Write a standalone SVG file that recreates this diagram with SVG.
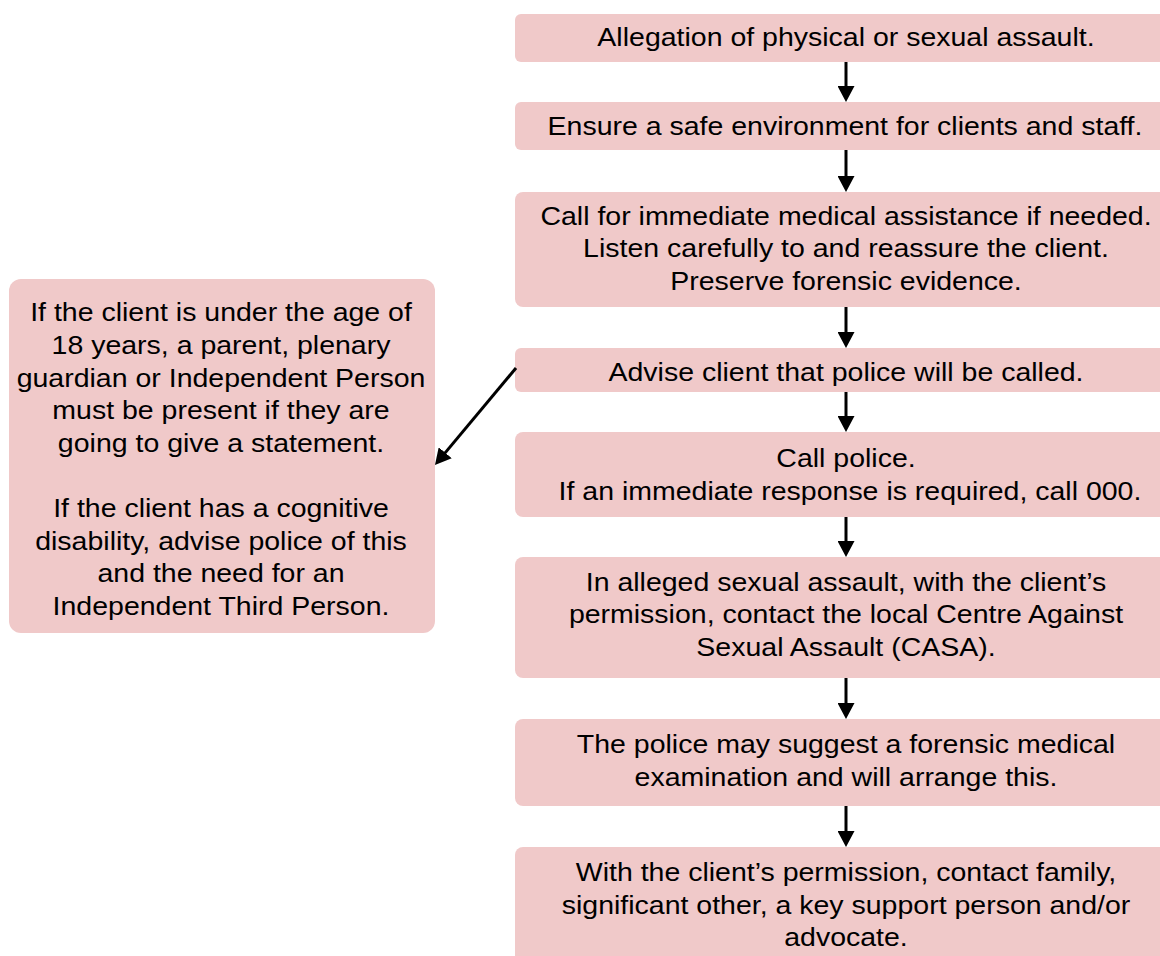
<svg xmlns="http://www.w3.org/2000/svg" width="1160" height="956" viewBox="0 0 1160 956">
<defs>
<style>
.box{fill:#f0c9c9;}
.t{font-family:"Liberation Sans",Arial,sans-serif;font-size:25px;fill:#000;text-anchor:middle;}
.c{stroke:#000;stroke-width:3;fill:none;}
</style>
<marker id="ah" viewBox="0 0 16 17" refX="8" refY="8.5" markerWidth="16" markerHeight="17" markerUnits="userSpaceOnUse" orient="auto">
<path d="M0,0 L16,8.5 L0,17 Z" fill="#000"/>
</marker>
</defs>
<rect width="1160" height="956" fill="#fff"/>
<g id="n1"><rect class="box" x="515" y="14" width="660" height="48" rx="6"/>
<g transform="translate(846 0) scale(1.14 1)"><text class="t" x="0" y="46">Allegation of physical or sexual assault.</text></g></g>
<g id="n2"><rect class="box" x="515" y="102" width="660" height="48" rx="6"/>
<g transform="translate(845 0) scale(1.14 1)"><text class="t" x="0" y="135">Ensure a safe environment for clients and staff.</text></g></g>
<g id="n3"><rect class="box" x="515" y="192" width="660" height="115" rx="8"/>
<g transform="translate(846 0) scale(1.14 1)">
<text class="t" x="0" y="225">Call for immediate medical assistance if needed.</text>
<text class="t" x="0" y="257">Listen carefully to and reassure the client.</text>
<text class="t" x="0" y="290">Preserve forensic evidence.</text></g></g>
<g id="n4"><rect class="box" x="515" y="348" width="660" height="44" rx="6"/>
<g transform="translate(846 0) scale(1.14 1)"><text class="t" x="0" y="381">Advise client that police will be called.</text></g></g>
<g id="n5"><rect class="box" x="515" y="432" width="660" height="85" rx="8"/>
<g transform="translate(846 0) scale(1.14 1)">
<text class="t" x="0" y="467">Call police.</text>
<text class="t" x="0" y="500" xml:space="preserve"> If an immediate response is required, call 000.</text></g></g>
<g id="n6"><rect class="box" x="515" y="557" width="660" height="121" rx="8"/>
<g transform="translate(846 0) scale(1.14 1)">
<text class="t" x="0" y="591">In alleged sexual assault, with the client’s</text>
<text class="t" x="0" y="623">permission, contact the local Centre Against</text>
<text class="t" x="0" y="656">Sexual Assault (CASA).</text></g></g>
<g id="n7"><rect class="box" x="515" y="719" width="660" height="87" rx="8"/>
<g transform="translate(846 0) scale(1.14 1)">
<text class="t" x="0" y="753">The police may suggest a forensic medical</text>
<text class="t" x="0" y="786">examination and will arrange this.</text></g></g>
<g id="n8"><rect class="box" x="515" y="847" width="660" height="130" rx="8"/>
<g transform="translate(846 0) scale(1.14 1)">
<text class="t" x="0" y="881">With the client’s permission, contact family,</text>
<text class="t" x="0" y="914">significant other, a key support person and/or</text>
<text class="t" x="0" y="946">advocate.</text></g></g>
<g id="side"><rect class="box" x="9" y="279" width="426" height="354" rx="12"/>
<g transform="translate(221 0) scale(1.14 1)">
<text class="t" x="0" y="321">If the client is under the age of</text>
<text class="t" x="0" y="354">18 years, a parent, plenary</text>
<text class="t" x="0" y="387">guardian or Independent Person</text>
<text class="t" x="0" y="419">must be present if they are</text>
<text class="t" x="0" y="452">going to give a statement.</text>
<text class="t" x="0" y="517">If the client has a cognitive</text>
<text class="t" x="0" y="550">disability, advise police of this</text>
<text class="t" x="0" y="582">and the need for an</text>
<text class="t" x="0" y="615">Independent Third Person.</text></g></g>
<g id="connectors">
<line class="c" x1="846" y1="62" x2="846" y2="94" marker-end="url(#ah)"/>
<line class="c" x1="846" y1="150" x2="846" y2="184" marker-end="url(#ah)"/>
<line class="c" x1="846" y1="307" x2="846" y2="340" marker-end="url(#ah)"/>
<line class="c" x1="846" y1="392" x2="846" y2="424" marker-end="url(#ah)"/>
<line class="c" x1="846" y1="517" x2="846" y2="549" marker-end="url(#ah)"/>
<line class="c" x1="846" y1="678" x2="846" y2="711" marker-end="url(#ah)"/>
<line class="c" x1="846" y1="806" x2="846" y2="839" marker-end="url(#ah)"/>
<line class="c" x1="516" y1="368" x2="440.1" y2="458.9" marker-end="url(#ah)"/>
</g>
</svg>
